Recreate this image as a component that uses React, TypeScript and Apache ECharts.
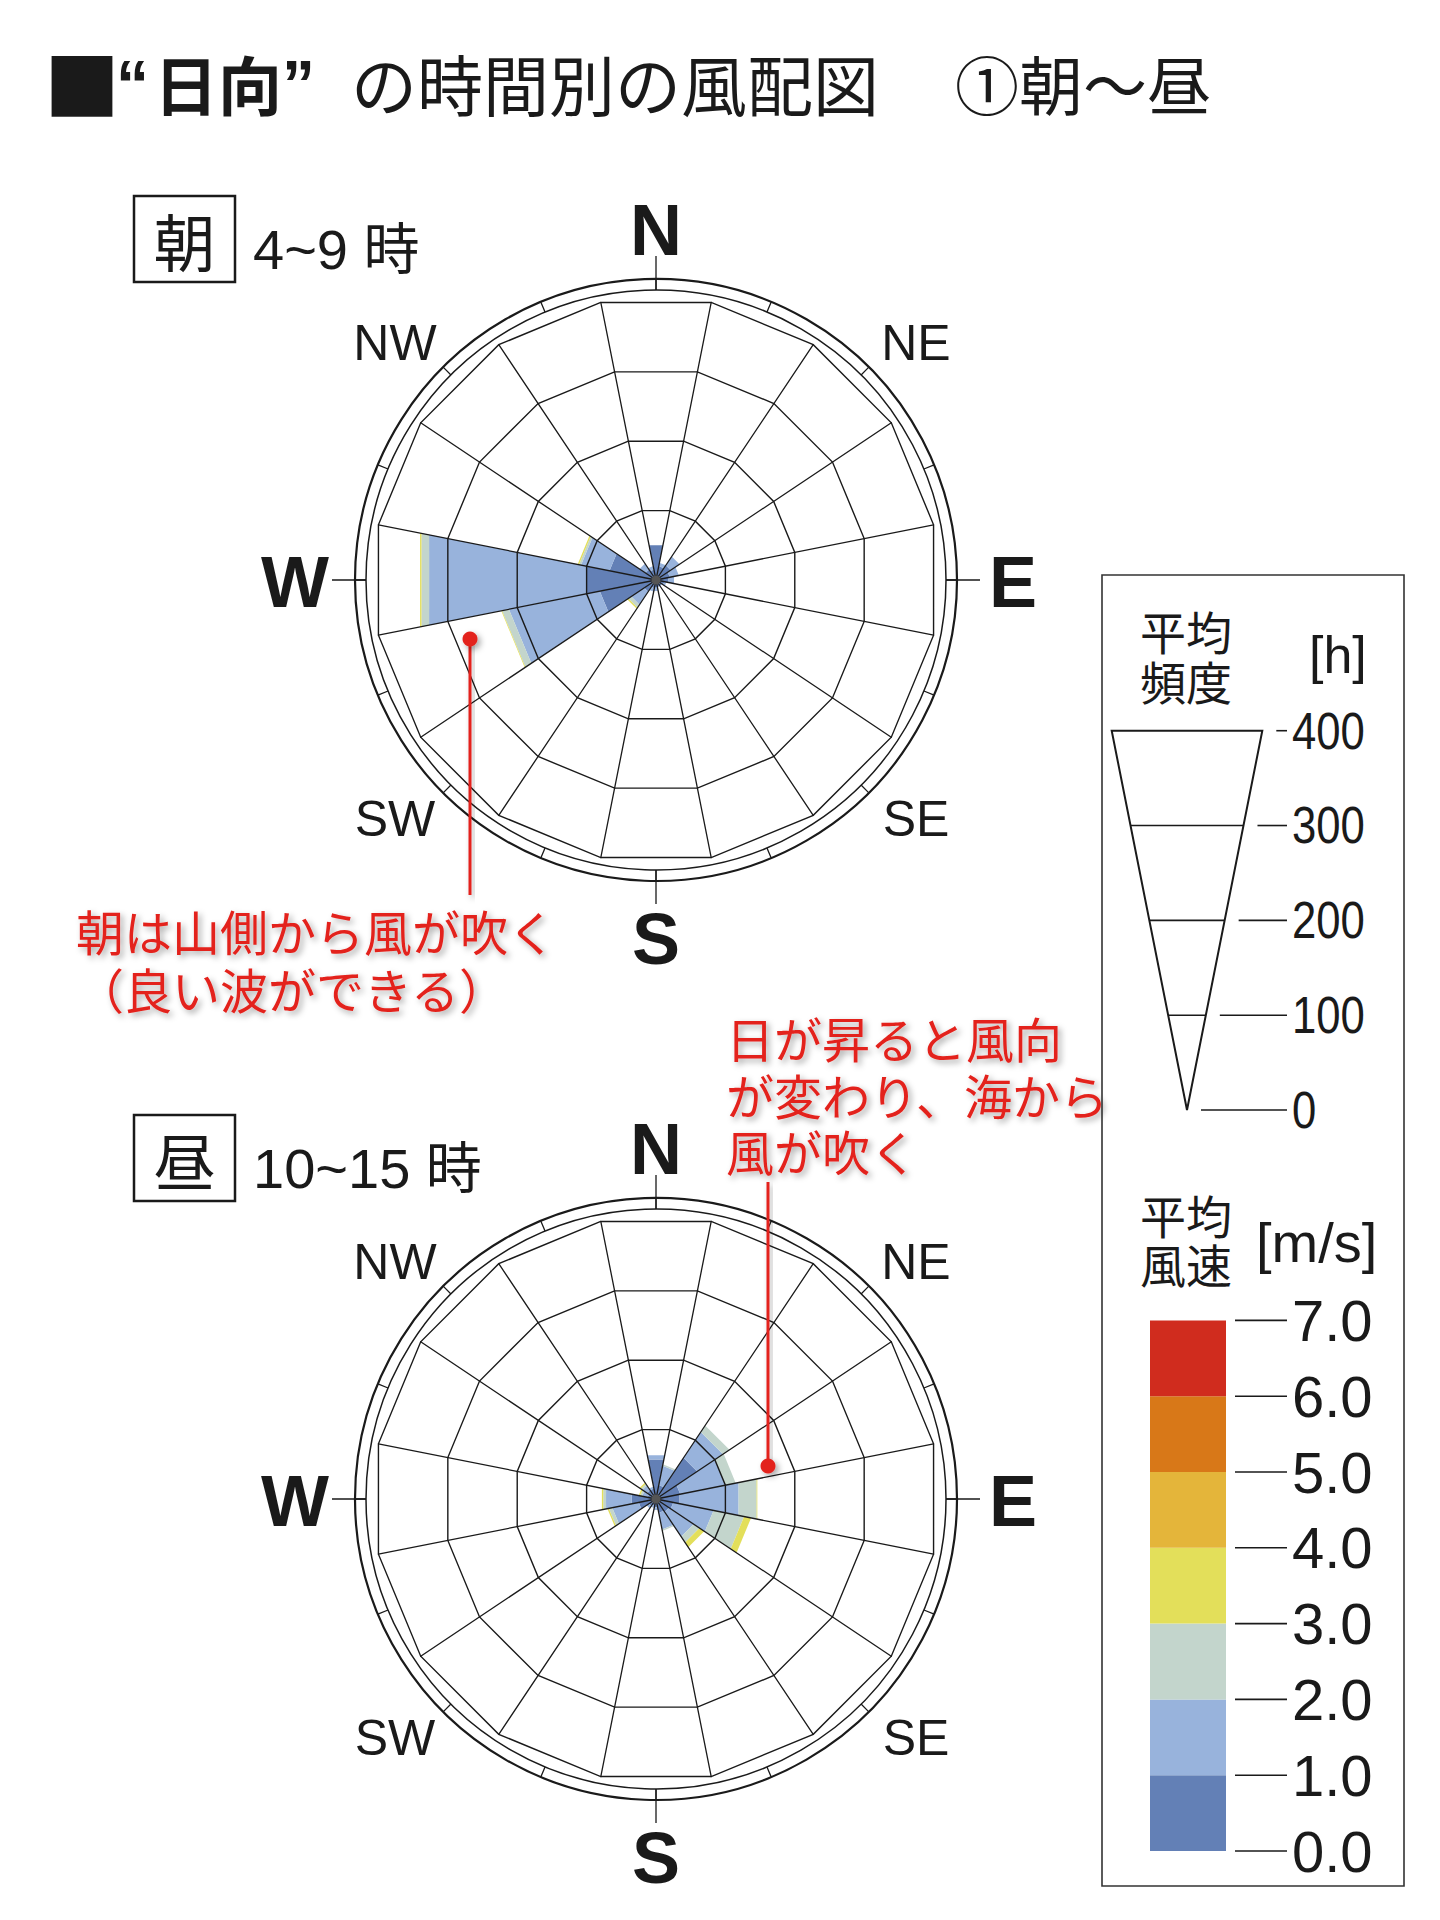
import React, { useEffect, useRef } from "react";
import * as echarts from "echarts";

// ---------- data ----------
const DIRS = ["N", "NNE", "NE", "ENE", "E", "ESE", "SE", "SSE", "S", "SSW", "SW", "WSW", "W", "WNW", "NW", "NNW"];
const SPEED_BANDS = ["0.0-1.0", "1.0-2.0", "2.0-3.0", "3.0-4.0", "4.0-5.0", "5.0-6.0", "6.0-7.0"];
const BAND_COLORS = ["#6380b6", "#98b3dc", "#c3d5cc", "#e3df5a", "#e4b53a", "#d87818", "#d02c1e"];

// 朝 4~9時  (hours per direction, by wind speed band)
const asaBand0 = [50, 20, 25, 20, 18, 12, 10, 10, 10, 12, 20, 81, 100, 67, 18, 15];
const asaBand1 = [0, 5, 15, 13, 8, 3, 0, 0, 6, 5, 22, 131, 227, 41, 10, 5];
const asaBand2 = [0, 0, 0, 0, 0, 0, 0, 0, 0, 0, 5, 10, 11, 3, 0, 0];
const asaBand3 = [0, 0, 0, 0, 0, 0, 0, 0, 0, 0, 2, 1, 2, 2, 0, 0];

// 昼 10~15時
const hiruBand0 = [57, 20, 70, 35, 34, 25, 22, 20, 12, 10, 12, 25, 35, 12, 15, 15];
const hiruBand1 = [6, 28, 44, 65, 85, 58, 42, 24, 4, 3, 4, 38, 37, 8, 8, 3];
const hiruBand2 = [0, 2, 11, 15, 26, 44, 10, 2, 0, 0, 0, 5, 4, 3, 3, 0];
const hiruBand3 = [0, 0, 0, 0, 1, 10, 8, 0, 0, 0, 0, 2, 2, 2, 2, 0];

const FREQ_TICKS = [0, 100, 200, 300, 400];
const SPEED_TICKS = ["0.0", "1.0", "2.0", "3.0", "4.0", "5.0", "6.0", "7.0"];
const RING_LABELS_MAIN = ["N", "E", "S", "W"];
const RING_LABELS_DIAG = ["NE", "SE", "SW", "NW"];

// ---------- layout ----------
const SANS = "'Liberation Sans', 'Noto Sans CJK JP', sans-serif";
const CJK = "'Noto Sans CJK JP', 'Liberation Sans', sans-serif";
const CX = 656;
const CY = [580, 1499];
const R = 283;
const MAXH = 400;
const RED = "#e3241e";

function buildData(bands: number[][]) {
  const out: number[][] = [];
  for (let i = 0; i < DIRS.length; i++) {
    let cum = 0;
    for (let b = 0; b < bands.length; b++) {
      const v = bands[b][i];
      if (v > 0) {
        out.push([i, b, cum, cum + v, i * 22.5]);
        cum += v;
      }
    }
  }
  return out;
}

export default function App() {
  const ref = useRef<HTMLDivElement>(null);
  useEffect(() => {
    document.body.style.margin = "0";
    const chart = echarts.init(ref.current!, null, { renderer: "svg" });

    const roses = [
      [asaBand0, asaBand1, asaBand2, asaBand3],
      [hiruBand0, hiruBand1, hiruBand2, hiruBand3],
    ];

    const polar: any[] = [];
    const angleAxis: any[] = [];
    const radiusAxis: any[] = [];
    const radar: any[] = [];
    const series: any[] = [];
    const els: any[] = [];

    const txt = (text: string, x: number, y: number, o: any = {}, extra: any = {}) => {
      const st: any = {
        text,
        fill: "#1a1a1a",
        fontFamily: SANS,
        fontSize: 50,
        align: "center",
        verticalAlign: "middle",
        ...o,
      };
      if (st.lineHeight == null) st.lineHeight = st.fontSize;
      st.textAlign = st.align;
      st.textVerticalAlign = st.verticalAlign;
      return { type: "text", x, y, z: 20, style: st, ...extra };
    };

    CY.forEach((cy, k) => {
      const base = polar.length;
      // data polar
      polar.push({ center: [CX, cy], radius: R });
      angleAxis.push({ polarIndex: base, type: "value", min: 0, max: 360, startAngle: 90, clockwise: true, show: false });
      radiusAxis.push({ polarIndex: base, type: "value", min: 0, max: MAXH, show: false });
      // outer circle with 16 inner ticks
      polar.push({ center: [CX, cy], radius: 301 });
      angleAxis.push({
        polarIndex: base + 1, type: "value", min: 0, max: 360, interval: 22.5, startAngle: 90,
        axisLine: { show: true, lineStyle: { color: "#1a1a1a", width: 2.2 } },
        axisTick: { show: true, inside: true, length: 11, lineStyle: { color: "#1a1a1a", width: 1.3 } },
        axisLabel: { show: false }, splitLine: { show: false },
      });
      radiusAxis.push({ polarIndex: base + 1, type: "value", min: 0, max: MAXH, show: false });
      // inner circle with long cardinal ticks
      polar.push({ center: [CX, cy], radius: 290 });
      angleAxis.push({
        polarIndex: base + 2, type: "value", min: 0, max: 360, interval: 90, startAngle: 90,
        axisLine: { show: true, lineStyle: { color: "#1a1a1a", width: 1.5 } },
        axisTick: { show: true, inside: false, length: 34, lineStyle: { color: "#1a1a1a", width: 1.3 } },
        axisLabel: { show: false }, splitLine: { show: false },
      });
      radiusAxis.push({ polarIndex: base + 2, type: "value", min: 0, max: MAXH, show: false });

      radar.push({
        center: [CX, cy], radius: R, startAngle: 101.25, splitNumber: 4, shape: "polygon", z: 3,
        indicator: DIRS.map((d) => ({ name: d, min: 0, max: MAXH })),
        axisName: { show: false },
        axisLine: { lineStyle: { color: "#1a1a1a", width: 1.3 } },
        splitLine: { lineStyle: { color: "#1a1a1a", width: 1.4 } },
        splitArea: { show: false },
      });

      series.push({
        type: "custom",
        name: k === 0 ? "朝" : "昼",
        coordinateSystem: "polar",
        polarIndex: base,
        z: 1,
        dimensions: ["dir", "band", "start", "end", "angle"],
        encode: { radius: 3, angle: 4 },
        data: buildData(roses[k]),
        renderItem: (params: any, api: any) => {
          const dir = api.value(0);
          const band = api.value(1);
          const s = api.value(2);
          const e = api.value(3);
          const a0 = dir * 22.5 - 11.25;
          const a1 = dir * 22.5 + 11.25;
          const pts = [api.coord([s, a0]), api.coord([e, a0]), api.coord([e, a1]), api.coord([s, a1])];
          return { type: "polygon", shape: { points: pts }, style: { fill: BAND_COLORS[band], stroke: null } };
        },
      });

      // centre dot
      els.push({ type: "circle", z: 20, shape: { cx: CX, cy, r: 4.5 }, style: { fill: "#555" } });

      // compass labels
      const mainOff = [[0, -350], [357, 2], [0, 359], [-361, 2]];
      RING_LABELS_MAIN.forEach((l, i) => {
        els.push(txt(l, CX + mainOff[i][0], cy + mainOff[i][1], { fontSize: 72, fontWeight: "bold" }));
      });
      const diagOff = [[260, -237], [260, 239], [-261, 239], [-261, -237]];
      RING_LABELS_DIAG.forEach((l, i) => {
        els.push(txt(l, CX + diagOff[i][0], cy + diagOff[i][1], { fontSize: 50 }));
      });
    });

    // period labels
    const periods = [
      { k: "朝", t: "4~9 時", y: 196 },
      { k: "昼", t: "10~15 時", y: 1115 },
    ];
    periods.forEach((p) => {
      els.push({ type: "rect", z: 20, shape: { x: 134, y: p.y, width: 101, height: 86 }, style: { fill: "none", stroke: "#1a1a1a", lineWidth: 2.5 } });
      els.push(txt(p.k, 184.5, p.y + 44, { fontSize: 62, fontFamily: CJK }));
      els.push(txt(p.t, 253, p.y + 53, { fontSize: 56, align: "left" }));
    });

    // title
    els.push(txt("■", 44, 82, { fontSize: 76, fontFamily: CJK, align: "left" }));
    els.push(txt("“", 116, 84, { fontSize: 66, fontWeight: "bold", align: "left" }));
    els.push(txt("日向", 154, 82, { fontSize: 64, fontFamily: CJK, fontWeight: "bold", align: "left" }));
    els.push(txt("”", 282, 84, { fontSize: 66, fontWeight: "bold", align: "left" }));
    els.push(txt("の時間別の風配図", 351, 82, { fontSize: 66, fontFamily: CJK, align: "left" }));
    els.push(txt("①朝～昼", 955, 82, { fontSize: 64, fontFamily: CJK, align: "left" }));

    // annotations
    const shadow = { shadowColor: "rgba(0,0,0,0.35)", shadowBlur: 6, shadowOffsetX: 3, shadowOffsetY: 3 };
    const redTxt = (t: string, x: number, y: number, lh: number) =>
      txt(t, x, y, {
        fontSize: 48, lineHeight: lh, fontFamily: CJK, fill: RED, align: "left", ...shadow,
        textShadowColor: shadow.shadowColor, textShadowBlur: 6, textShadowOffsetX: 3, textShadowOffsetY: 3,
      });
    els.push(redTxt("朝は山側から風が吹く\n（良い波ができる）", 76, 959, 58));
    els.push(redTxt("日が昇ると風向\nが変わり、海から\n風が吹く", 726, 1093.5, 56.5));
    const pointers = [
      { x: 470, y0: 639, y1: 895 },
      { x: 768, y0: 1466, y1: 1182 },
    ];
    pointers.forEach((p) => {
      const top = Math.min(p.y0, p.y1);
      els.push({ type: "rect", z: 21, shape: { x: p.x - 1.5, y: top, width: 3, height: Math.abs(p.y1 - p.y0) }, style: { fill: RED, ...shadow } });
      els.push({ type: "circle", z: 22, shape: { cx: p.x, cy: p.y0, r: 7.5 }, style: { fill: RED, ...shadow } });
    });

    // legend box
    els.push({ type: "rect", z: 20, shape: { x: 1102, y: 575, width: 302, height: 1311 }, style: { fill: "none", stroke: "#333", lineWidth: 1.6 } });
    els.push(txt("平均\n頻度", 1140, 655, { fontSize: 46, lineHeight: 50, fontFamily: CJK, align: "left" }));
    els.push(txt("[h]", 1309, 655, { fontSize: 52, align: "left" }));
    const fTop = 730.7, fBot = 1110, fCx = 1187, fHalf = 75.3;
    const fy = (v: number) => fBot - (v / MAXH) * (fBot - fTop);
    const fw = (v: number) => (v / MAXH) * fHalf;
    els.push({
      type: "polygon", z: 20,
      shape: { points: [[fCx - fHalf, fTop], [fCx + fHalf, fTop], [fCx, fBot]] },
      style: { fill: "none", stroke: "#1a1a1a", lineWidth: 2 },
    });
    FREQ_TICKS.forEach((v) => {
      const y = fy(v);
      if (v > 0 && v < MAXH) {
        els.push({ type: "line", z: 20, shape: { x1: fCx - fw(v), y1: y, x2: fCx + fw(v), y2: y }, style: { stroke: "#1a1a1a", lineWidth: 1.6 } });
      }
      els.push({ type: "line", z: 20, shape: { x1: fCx + fw(v) + 14, y1: y, x2: 1287, y2: y }, style: { stroke: "#1a1a1a", lineWidth: 1.6 } });
      els.push(txt(String(v), 1292, y, { fontSize: 52, align: "left" }, { scaleX: 0.84 }));
    });

    els.push(txt("平均\n風速", 1140, 1238.5, { fontSize: 46, lineHeight: 49, fontFamily: CJK, align: "left" }));
    els.push(txt("[m/s]", 1256, 1242, { fontSize: 56, align: "left" }));
    const sBot = 1851, sStep = 75.8;
    SPEED_BANDS.forEach((b, i) => {
      els.push({ type: "rect", z: 20, shape: { x: 1150, y: sBot - (i + 1) * sStep, width: 76, height: sStep }, style: { fill: BAND_COLORS[i] } });
    });
    SPEED_TICKS.forEach((t, i) => {
      const y = sBot - i * sStep;
      els.push({ type: "line", z: 20, shape: { x1: 1235, y1: y, x2: 1287, y2: y }, style: { stroke: "#1a1a1a", lineWidth: 1.6 } });
      els.push(txt(t, 1292, y, { fontSize: 58, align: "left" }));
    });

    chart.setOption({
      animation: false,
      backgroundColor: "#fff",
      polar,
      angleAxis,
      radiusAxis,
      radar,
      series,
      graphic: { elements: els },
    });
    return () => chart.dispose();
  }, []);
  return <div ref={ref} style={{ width: 1440, height: 1920 }} />;
}
